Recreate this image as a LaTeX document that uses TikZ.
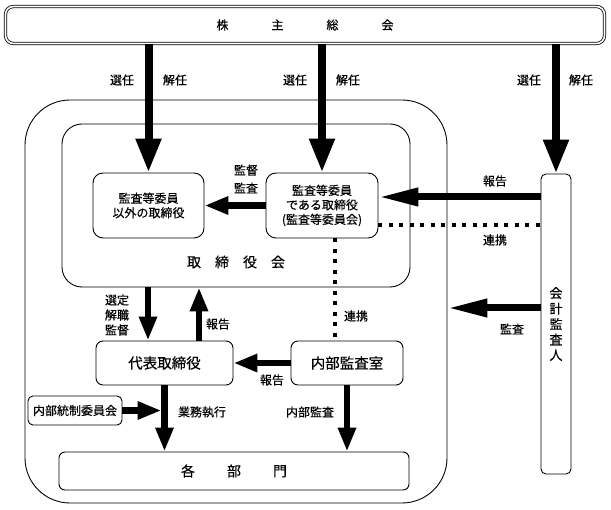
\documentclass[tikz,border=0pt]{standalone}
\usepackage{fontspec}
\setmainfont{Noto Sans CJK JP}[BoldFont={Noto Sans CJK JP}, BoldFeatures={FakeBold=0.35}]
\usetikzlibrary{arrows.meta,positioning}

\begin{document}
\begin{tikzpicture}[
    x=1pt, y=-1pt,
    every node/.style={font=\fontsize{12}{14.5}\selectfont\bfseries},
    box/.style={draw, line width=0.9pt, align=center, inner sep=0pt},
    tag/.style={inner sep=1pt, align=center},
    bigflow/.style={-{Triangle[length=34pt,width=24pt]}, line width=8pt},
    flow/.style={-{Triangle[length=24pt,width=17pt]}, line width=6.5pt},
    longflow/.style={-{Triangle[length=40pt,width=17pt]}, line width=7pt},
    link/.style={line width=4pt, dash pattern=on 4pt off 6.5pt}
]
\useasboundingbox (0,0) rectangle (611,510);
% boxes
\node[box, double, double distance=1.6pt, line width=0.8pt, rounded corners=8pt,
      minimum width=599pt, minimum height=37pt] (meeting) at (305,25)
      {株\hspace{43pt}主\hspace{43pt}総\hspace{43pt}会};
\node[box, rounded corners=45pt, minimum width=422pt, minimum height=403pt] (company) at (236,301.5) {};
\node[box, rounded corners=20pt, minimum width=348pt, minimum height=163pt] (board) at (236,205.5) {};
\node[tag, font=\fontsize{14}{16}\selectfont\bfseries] (boardname) at (236,262) {取\hspace{1em}締\hspace{1em}役\hspace{1em}会};
\node[box, rounded corners=10pt, minimum width=111pt, minimum height=65pt] (other) at (148.5,205.5)
      {監査等委員\\以外の取締役};
\node[box, rounded corners=10pt, minimum width=112pt, minimum height=65pt] (audit) at (322,205.5)
      {監査等委員\\である取締役\\(監査等委員会)};
\node[box, rounded corners=5pt, minimum width=30pt, minimum height=300pt,
      font=\fontsize{13}{15.5}\selectfont\bfseries] (auditor) at (556,324) {会\\計\\監\\査\\人};
\node[box, rounded corners=7pt, minimum width=137pt, minimum height=44pt,
      font=\fontsize{14.5}{17}\selectfont\bfseries] (ceo) at (164.5,363) {代表取締役};
\node[box, rounded corners=7pt, minimum width=112pt, minimum height=44pt,
      font=\fontsize{14.5}{17}\selectfont\bfseries] (internal) at (347,363) {内部監査室};
\node[box, rounded corners=5pt, minimum width=94pt, minimum height=29pt] (control) at (75,410.5) {内部統制委員会};
\node[box, rounded corners=6pt, minimum width=350pt, minimum height=38pt,
      font=\fontsize{14}{16}\selectfont\bfseries] (depts) at (234,471) {各\hspace{32pt}部\hspace{32pt}門};

% from the meeting
\draw[bigflow] (other.north |- meeting.south) -- (other.north);
\draw[bigflow] (audit.north |- meeting.south) -- (audit.north);
\draw[bigflow] (auditor.north |- meeting.south) -- (auditor.north);
\node[tag] (sel1) at (122,80) {選任};
\node[tag] (dis1) at (175,80) {解任};
\node[tag] (sel2) at (295,80) {選任};
\node[tag] (dis2) at (348,80) {解任};
\node[tag] (sel3) at (529,80) {選任};
\node[tag] (dis3) at (581,80) {解任};

% board level
\draw[flow] (audit.west) -- (other.east);
\node[tag, font=\fontsize{12}{18}\selectfont\bfseries] (supervise) at (246,179) {監督\\監査};
\draw[longflow] (auditor.west |- 0,197) -- (audit.east |- 0,197);
\node[tag] (report1) at (495,181) {報告};
\draw[link] (audit.east |- 0,225) -- (auditor.west |- 0,225);
\node[tag] (coop1) at (495,240) {連携};
\draw[link] ([xshift=13pt]audit.south) -- ([xshift=13pt]audit.south |- internal.north);
\node[tag] (coop2) at (356,316) {連携};
\draw[longflow] (auditor.west |- 0,308) -- (company.east |- 0,308);
\node[tag] (check) at (512,329) {監査};

% execution level
\draw[flow] (board.south -| 148,0) -- (ceo.north -| 148,0);
\node[tag, font=\fontsize{12}{15}\selectfont\bfseries] (appoint) at (117,315) {選定\\解職\\監督};
\draw[flow] (ceo.north -| 199,0) -- (board.south -| 199,0);
\node[tag] (report2) at (218,324) {報告};
\draw[flow] (internal.west) -- (ceo.east);
\node[tag] (report3) at (272,380) {報告};
\draw[flow] (ceo.south) -- (depts.north -| ceo.south);
\node[tag] (exec) at (202,412) {業務執行};
\draw[flow] (control.east) -- ([xshift=-3pt]control.east -| ceo.south);
\draw[flow] (internal.south) -- (depts.north -| internal.south);
\node[tag] (inaudit) at (310,412) {内部監査};
\end{tikzpicture}
\end{document}
